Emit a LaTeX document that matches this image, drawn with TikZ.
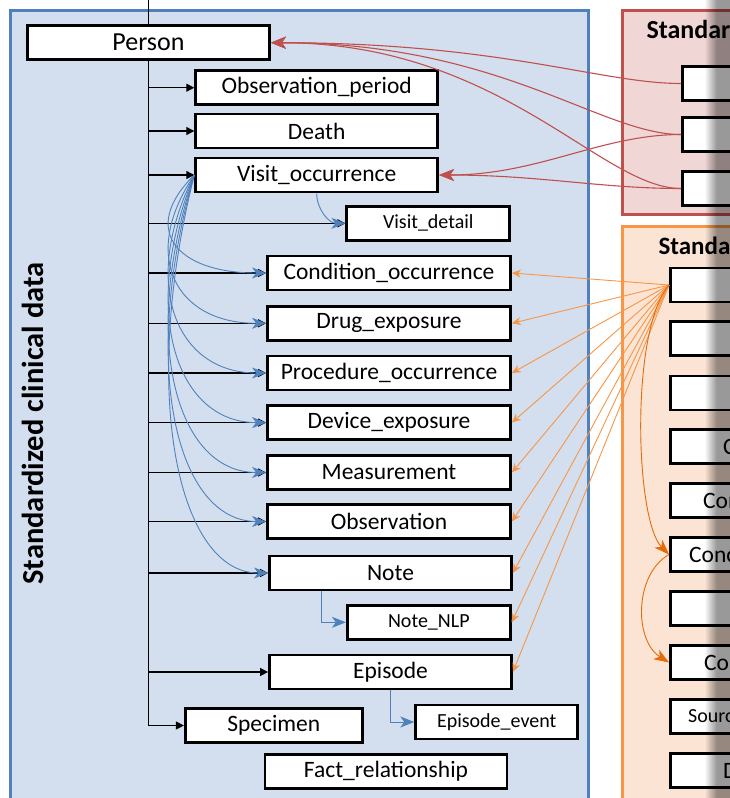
\documentclass[tikz,border=0pt]{standalone}
\usepackage{fontspec}
\setmainfont{Carlito}
\usepackage{tikz}
\usetikzlibrary{arrows.meta,positioning}
\usepackage{color}
\definecolor{cdmblue}{HTML}{4F81BD}
\definecolor{cdmbluefill}{HTML}{D3DFEE}
\definecolor{cdmred}{HTML}{C0504D}
\definecolor{cdmredfill}{HTML}{F0D6D5}
\definecolor{cdmorange}{HTML}{F79646}
\definecolor{cdmorangefill}{HTML}{FCE4D4}
\definecolor{cdmdarkorange}{HTML}{E46C0A}

\begin{document}
\begin{tikzpicture}[x=1pt, y=1pt,
	tbl/.style={draw=black, fill=white, line width=2.8pt, inner sep=0pt, minimum height=34pt, minimum width=242pt, font=\fontsize{23.5}{28}\selectfont},
	tblsmall/.style={tbl, minimum width=163pt, font=\fontsize{20}{24}\selectfont},
	link/.style={draw=black, line width=1.2pt, -{Triangle[length=8pt,width=8pt]}},
	visit/.style={draw=cdmblue, line width=0.9pt, -{Stealth[length=14pt,width=11pt,inset=4pt]}},
	hsys/.style={draw=cdmred, line width=1.1pt, -{Stealth[length=15pt,width=12pt,inset=4pt]}},
	vocab/.style={draw=cdmorange, line width=0.9pt, -{Stealth[length=9pt,width=8pt]}},
	vocabin/.style={draw=cdmdarkorange, line width=0.9pt, -{Stealth[length=15pt,width=11pt,inset=4pt]}}]
		\useasboundingbox (0,0) rectangle (730,-798);
% domains
\fill[cdmbluefill, draw=cdmblue, line width=3pt] (10.5,-10.5) rectangle (588,-830);
\fill[cdmredfill, draw=cdmred, line width=3pt] (622.5,-10.5) rectangle (770,-214.5);
\fill[cdmorangefill, draw=cdmorange, line width=3pt] (622.5,-226.5) rectangle (770,-830);
\node[rotate=90, anchor=base, font=\fontsize{30.5}{36}\selectfont\bfseries] (clin) at (43.5, -423.5) {Standardized clinical data};
\node[anchor=base west, font=\fontsize{26}{31}\selectfont\bfseries] (hsyst) at (643, -38) {Standar};
\node[anchor=base west, font=\fontsize{25}{30}\selectfont\bfseries] (vocabt) at (655, -254.5) {Standa};
% clinical tables
\node[tbl, font=\fontsize{26}{31}\selectfont] (person) at (148.5, -42.7) {Person};
\node[tbl] (obsp) at (316.7, -87.7) {Observation\_period};
\node[tbl] (death) at (316.7, -131) {Death};
\node[tbl] (vo) at (316.7, -175) {Visit\_occurrence};
\node[tblsmall] (vd) at (428.3, -223.3) {Visit\_detail};
\node[tbl, minimum width=243pt] (cond) at (389, -273) {Condition\_occurrence};
\node[tbl, minimum width=243pt] (drug) at (389, -323.3) {Drug\_exposure};
\node[tbl, minimum width=243pt] (proc) at (389, -373) {Procedure\_occurrence};
\node[tbl, minimum width=243pt] (dev) at (389, -422.6) {Device\_exposure};
\node[tbl, minimum width=243pt] (meas) at (389, -472.5) {Measurement};
\node[tbl, minimum width=243pt] (obs) at (389, -521.5) {Observation};
\node[tbl] (note) at (390.5, -573) {Note};
\node[tblsmall] (nlp) at (428.8, -622.3) {Note\_NLP};
\node[tbl] (epi) at (390.5, -672) {Episode};
\node[tblsmall, minimum width=162pt] (epe) at (496.7, -722) {Episode\_event};
\node[tbl, minimum width=177pt] (spec) at (273.8, -725.5) {Specimen};
\node[tbl] (fact) at (386, -771.7) {Fact\_relationship};
% health system tables
\node[tbl, anchor=west, minimum width=100pt] (h1) at (681, -83.5) {};
\node[tbl, anchor=west, minimum width=100pt] (h2) at (681, -134.5) {};
\node[tbl, anchor=west, minimum width=100pt] (h3) at (681, -188.5) {};
% vocabulary tables
\foreach \i/\y in {1/285, 2/338.5, 3/393, 4/446.5, 5/500.5, 6/554.5, 7/608.5, 8/662.5, 9/716.5, 10/770.5}
	\node[tbl, anchor=west, minimum width=100pt] (v\i) at (669, -\y) {};
\node[anchor=west, inner sep=0pt, font=\fontsize{23.5}{28}\selectfont] (v4t) at (723, -446.5) {C};
\node[anchor=west, inner sep=0pt, font=\fontsize{23.5}{28}\selectfont] (v5t) at (703, -500.5) {Con};
\node[anchor=west, inner sep=0pt, font=\fontsize{23.5}{28}\selectfont] (v6t) at (689, -554.5) {Conc};
\node[anchor=west, inner sep=0pt, font=\fontsize{23.5}{28}\selectfont] (v8t) at (704, -662.5) {Co};
\node[anchor=west, inner sep=0pt, font=\fontsize{20}{24}\selectfont] (v9t) at (688, -716.5) {Sourc};
\node[anchor=west, inner sep=0pt, font=\fontsize{23.5}{28}\selectfont] (v10t) at (723, -770.5) {D};
% person links
\coordinate (trunk) at (148.3, 0);
\draw[line width=1.2pt] (trunk) -- (trunk |- person.north);
\draw[link] (trunk |- person.south) |- (spec.west);
\foreach \t in {obsp, death, vo, vd, cond, drug, proc, dev, meas, obs, note, epi}
	\draw[link] (trunk |- \t.west) -- (\t.west);
% visit links
\foreach \t/\d in {cond/98, drug/148, proc/198, dev/248, meas/298, obs/347, note/398}
	\draw[visit] (vo.west) .. controls +(-55,-0.55*\d) and +(-90,0) .. (\t.west);
\draw[visit] (vo.south) to[out=270, in=180] (vd.west);
\draw[visit] ([xshift=-69.5pt]note.south) |- (nlp.west);
\draw[visit] (epi.south) |- (epe.west);
% health system links
\foreach \s/\t/\b in {h1/person/230, h2/person/230, h3/person/230, h2/vo/100, h3/vo/100}
	\draw[hsys] (\s.west) .. controls +(-80,0) and +(\b,0) .. (\t.east);
% vocabulary links
\foreach \t in {cond, drug, proc, dev, meas, obs, note, nlp, epi}
	\draw[vocab] (v1.west) -- (\t.east);
\draw[vocabin] (v1.west) .. controls +(-39,-45) and +(-34,34.5) .. (v6.west);
\draw[vocabin] (v6.west) .. controls +(-35,-20) and +(-35,22) .. (v8.west);
% shade at the cut
\foreach \i [evaluate=\i as \op using 0.4*(\i+0.5)/12] in {0,...,11}
	\fill[black, opacity=\op] (705+\i,0) rectangle (706+\i,-798);
\fill[black, opacity=0.4] (717,0) rectangle (730,-798);
\end{tikzpicture}
\end{document}
